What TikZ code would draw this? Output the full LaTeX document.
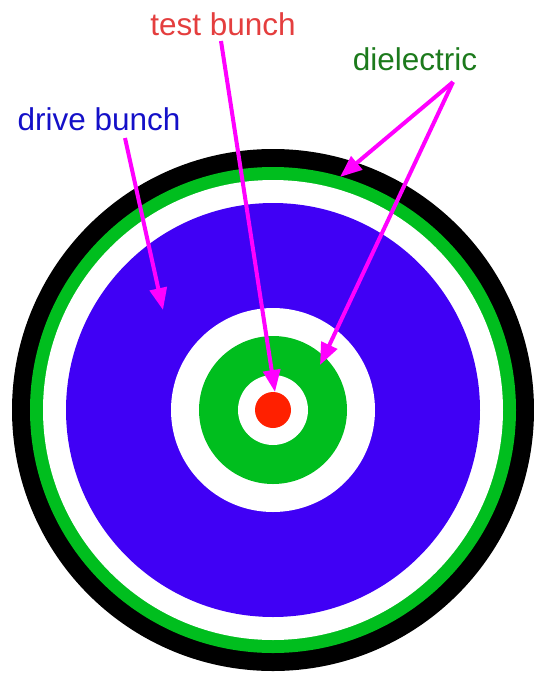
\documentclass[tikz,border=0pt]{standalone}
\usepackage{fontspec}
\setmainfont{Liberation Sans}
\usetikzlibrary{arrows.meta}
\definecolor{ringgreen}{RGB}{0,190,30}
\definecolor{driveblue}{RGB}{64,0,245}
\definecolor{testred}{RGB}{255,32,0}
\definecolor{arrowmag}{RGB}{255,0,255}
\definecolor{labred}{RGB}{228,62,62}
\definecolor{labgreen}{RGB}{28,122,28}
\definecolor{labblue}{RGB}{20,16,200}
\tikzset{
  lbl/.style={anchor=base,inner sep=0pt,font=\fontsize{31.5}{36}\selectfont},
  pointer/.style={draw=arrowmag,line width=4pt,-{Triangle[length=22pt,width=17pt]}},
}
\begin{document}
\begin{tikzpicture}[x=1pt,y=-1pt]
\useasboundingbox (0,0) rectangle (534,673);
\coordinate (c) at (273,410);
\fill[black] (c) circle (261);
\fill[ringgreen] (c) circle (243);
\fill[white] (c) circle (230);
\fill[driveblue] (c) circle (207);
\fill[white] (c) circle (102);
\fill[ringgreen] (c) circle (74);
\fill[white] (c) circle (35);
\fill[testred] (c) circle (18);
\node[lbl,text=labred] (test) at (223,35) {test bunch};
\node[lbl,text=labgreen] (diel) at (415,70) {dielectric};
\node[lbl,text=labblue] (drive) at (99,130) {drive bunch};
\coordinate (ts) at (221,41);
\coordinate (tt) at (275,392);
\coordinate (ds) at (125,138);
\coordinate (dt) at (163,310);
\coordinate (es) at (453,82);
\coordinate (et1) at (340,177);
\coordinate (et2) at (320,365);
\draw[pointer] (ts) -- (tt);
\draw[pointer] (ds) -- (dt);
\draw[pointer] (es) -- (et1);
\draw[pointer] (es) -- (et2);
\end{tikzpicture}
\end{document}
